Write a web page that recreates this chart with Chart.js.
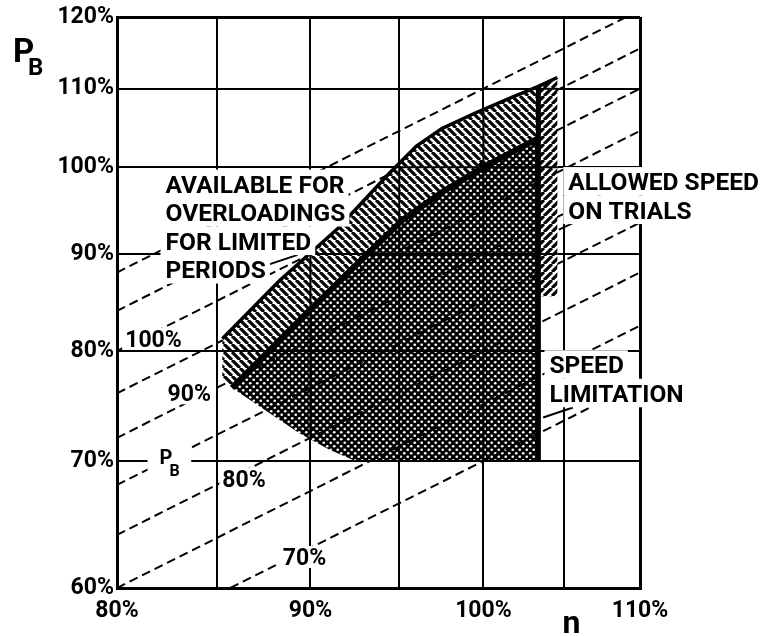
<!DOCTYPE html>
<html>
<head>
<meta charset="utf-8">
<script src="https://cdn.jsdelivr.net/npm/chart.js@4.4.1/dist/chart.umd.min.js"></script>
<style>
  html, body { margin: 0; padding: 0; background: #fff; }
  #c { display: block; }
</style>
</head>
<body>
<canvas id="c" width="768" height="636"></canvas>
<script>
// Axis ticks, percent of rated values (log-log diagram)
const speedTicks = [80, 85, 90, 95, 100, 105, 110];   // n
const speedLabelled = [80, 90, 100, 110];
const powerTicks = [60, 70, 80, 90, 100, 110, 120];   // P_B

// Lines of constant mean effective pressure, % (P_B proportional to n)
const mepLevels = [70, 75, 80, 85, 90, 95, 100, 105, 110];

// Continuous service limit (thick line through the rated point)
const loadLimitN = [85.8, 89.6, 93.5, 95.2, 97.5, 100, 103.4];
const loadLimitP = [76.5, 83.4, 90.6, 93.8, 97.0, 100, 103.6];

// Overload limit (upper edge of the hatched band)
const overloadN = [85.3, 88.3, 91.5, 94.4, 96.0, 97.5, 99.5, 101.7, 103.4, 104.6];
const overloadP = [81.2, 87.1, 92.8, 99.2, 102.6, 104.8, 106.8, 108.8, 110.3, 111.5];

// Lower-left edge of the service range
const lowerEdgeN = [85.8, 87.6, 89.4, 91.0, 92.5];
const lowerEdgeP = [76.5, 74.4, 72.4, 71.0, 70.0];

const speedLimitN = 103.4;       // speed limitation
const trialSpeedN = 104.6;       // allowed speed on trials
const trialStripBottomP = 85.5;
const minServiceP = 70;
const hatchLeftBottomP = 77.3;
const ratedPoint = { n: 100, p: 100 };

// Text blocks: left edge and first line centre in data units
const textBlocks = [
  { lines: ['AVAILABLE FOR', 'OVERLOADINGS', 'FOR LIMITED', 'PERIODS'], n: 82.4, p: 98.0 },
  { lines: ['ALLOWED SPEED', 'ON TRIALS'], n: 105.3, p: 98.3 },
  { lines: ['SPEED', 'LIMITATION'], n: 104.1, p: 78.7 }
];
const mepTags = [
  { mep: 100, n: 80.4, p: 81.2 },
  { mep: 90, n: 82.5, p: 76.0 },
  { mep: 80, n: 85.3, p: 68.5 },
  { mep: 70, n: 88.5, p: 62.3 }
];
const leaders = [
  [[87.8, 88.9], [89.3, 89.9]],
  [[105.6, 74.7], [103.7, 73.8]],
  [[105.9, 93.7], [104.7, 92.7]]
];

const pts = (ns, ps) => ns.map((n, i) => ({ x: n, y: ps[i] }));

function hatch(dir) {
  const s = 8, c = document.createElement('canvas');
  c.width = c.height = s;
  const g = c.getContext('2d');
  g.fillStyle = '#fff'; g.fillRect(0, 0, s, s);
  g.strokeStyle = '#000'; g.lineWidth = 3.2;
  g.beginPath();
  for (const k of [-s, 0, s]) {
    if (dir === 'back') { g.moveTo(k, 0); g.lineTo(k + s, s); }
    else { g.moveTo(k, s); g.lineTo(k + s, 0); }
  }
  g.stroke();
  return g.createPattern(c, 'repeat');
}
function dots() {
  const s = 7, c = document.createElement('canvas');
  c.width = c.height = s;
  const g = c.getContext('2d');
  g.fillStyle = '#000'; g.fillRect(0, 0, s, s);
  g.fillStyle = '#fff';
  for (const [cx, cy] of [[1.75, 1.75], [5.25, 5.25]]) {
    g.beginPath(); g.arc(cx, cy, 1.35, 0, Math.PI * 2); g.fill();
  }
  return g.createPattern(c, 'repeat');
}

const datasets = [];
const mepIdx = [];
mepLevels.forEach(m => {
  const f = m / 100;
  const n0 = Math.max(80, 60 / f), n1 = Math.min(110, 120 / f);
  mepIdx.push(datasets.length);
  datasets.push({
    data: [{ x: n0, y: f * n0 }, { x: n1, y: f * n1 }],
    borderColor: '#000', borderWidth: 2, borderDash: [9, 5], fill: false, order: 10
  });
});

// Hatched overload band
const hatchIdx = datasets.length;
const hatchN = overloadN.filter(n => n <= speedLimitN);
const hatchP = overloadP.slice(0, hatchN.length);
datasets.push({
  data: pts(hatchN, hatchP)
    .concat(pts(loadLimitN.slice().reverse(), loadLimitP.slice().reverse()))
    .concat([{ x: overloadN[0], y: hatchLeftBottomP }]),
  borderColor: 'transparent', borderWidth: 1, backgroundColor: hatch('back'), fill: 'shape', order: 6
});

// Strip for trial speeds
const stripIdx = datasets.length;
datasets.push({
  data: [
    { x: speedLimitN, y: trialStripBottomP },
    { x: speedLimitN, y: overloadP[overloadN.indexOf(speedLimitN)] },
    { x: trialSpeedN, y: overloadP[overloadN.indexOf(trialSpeedN)] },
    { x: trialSpeedN, y: trialStripBottomP }
  ],
  borderColor: 'transparent', borderWidth: 1, backgroundColor: hatch('fwd'), fill: 'shape', order: 6
});

// Overload limit outline
datasets.push({
  data: pts(overloadN, overloadP),
  borderColor: '#000', borderWidth: 3.5, fill: false, order: 5
});

// Service range (dotted)
const dotIdx = datasets.length;
datasets.push({
  data: pts(loadLimitN, loadLimitP)
    .concat([{ x: speedLimitN, y: minServiceP }])
    .concat(pts(lowerEdgeN.slice().reverse(), lowerEdgeP.slice().reverse())),
  borderColor: 'transparent', borderWidth: 1, backgroundColor: dots(), fill: 'shape', order: 4
});

// Load limit line
datasets.push({
  data: pts(loadLimitN, loadLimitP),
  borderColor: '#000', borderWidth: 6, fill: false, order: 2
});
// Speed limitation
datasets.push({
  data: [{ x: speedLimitN, y: minServiceP }, { x: speedLimitN, y: overloadP[overloadN.indexOf(speedLimitN)] }],
  borderColor: '#000', borderWidth: 5, fill: false, order: 2
});
// Rated point
datasets.push({
  data: [{ x: ratedPoint.n, y: ratedPoint.p }],
  showLine: false, pointRadius: 6, pointBackgroundColor: '#000', pointBorderWidth: 0, order: 1
});

const tickFont = { family: 'Roboto', size: 23, weight: 'bold' };
const FONT = 'Roboto';

function subscripted(ctx, x, base, big, small, bigSize, smallSize, dx, dy) {
  ctx.font = `bold ${bigSize}px ${FONT}`;
  ctx.fillText(big, x, base);
  ctx.font = `bold ${smallSize}px ${FONT}`;
  ctx.fillText(small, x + dx, base + dy);
}

const overlay = {
  id: 'overlay',
  afterDatasetsDraw(chart) {
    const { ctx, chartArea: a, scales: { x, y } } = chart;
    const X = v => x.getPixelForValue(v), Y = v => y.getPixelForValue(v);

    // grid lines showing through the shaded areas
    const clipTo = idx => {
      const d = chart.getDatasetMeta(idx).data;
      ctx.beginPath();
      d.forEach((p, i) => i ? ctx.lineTo(p.x, p.y) : ctx.moveTo(p.x, p.y));
      ctx.closePath();
      ctx.clip();
    };
    [hatchIdx, stripIdx, dotIdx].forEach(idx => {
      ctx.save();
      clipTo(idx);
      ctx.strokeStyle = '#000';
      ctx.lineWidth = 2;
      ctx.beginPath();
      speedTicks.forEach(v => { ctx.moveTo(X(v), a.top); ctx.lineTo(X(v), a.bottom); });
      powerTicks.forEach(v => { ctx.moveTo(a.left, Y(v)); ctx.lineTo(a.right, Y(v)); });
      ctx.stroke();
      if (idx === dotIdx) {
        mepIdx.forEach(i => chart.getDatasetMeta(i).dataset.draw(ctx, a));
      }
      ctx.restore();
    });

    ctx.save();
    // leader lines
    ctx.strokeStyle = '#000';
    ctx.lineWidth = 2;
    leaders.forEach(([p0, p1]) => {
      ctx.beginPath(); ctx.moveTo(X(p0[0]), Y(p0[1])); ctx.lineTo(X(p1[0]), Y(p1[1])); ctx.stroke();
    });

    // text blocks on white ground
    const lh = 28.5;
    ctx.textAlign = 'left';
    ctx.textBaseline = 'alphabetic';
    textBlocks.forEach(b => {
      ctx.font = `bold 24.5px ${FONT}`;
      const x0 = X(b.n), y0 = Y(b.p);
      ctx.fillStyle = '#fff';
      b.lines.forEach((t, i) => {
        const w = ctx.measureText(t).width;
        ctx.fillRect(x0 - 5, y0 + i * lh - lh / 2, w + 9, lh);
      });
      ctx.fillStyle = '#000';
      b.lines.forEach((t, i) => ctx.fillText(t, x0, y0 + i * lh + 8.7));
    });

    // mean effective pressure tags
    mepTags.forEach(t => {
      ctx.font = `bold 23px ${FONT}`;
      const s = t.mep + '%';
      const w = ctx.measureText(s).width;
      const x0 = X(t.n), y0 = Y(t.p);
      ctx.fillStyle = '#fff';
      ctx.fillRect(x0 - 3, y0 - 11, w + 5, 22);
      ctx.fillStyle = '#000';
      ctx.fillText(s, x0, y0 + 8);
    });

    // P_B marker on the 70 % line
    const px = X(82.1), py = Y(70);
    ctx.fillStyle = '#fff';
    ctx.fillRect(X(81.5), py - 14, X(83.7) - X(81.5), 30);
    ctx.fillStyle = '#000';
    subscripted(ctx, px, py + 3, 'P', 'B', 20, 16, 10, 12);

    // axis titles
    subscripted(ctx, a.left - 104, a.top + 45, 'P', 'B', 33, 24, 15, 13);
    ctx.font = `bold 32px ${FONT}`;
    ctx.textAlign = 'center';
    ctx.fillText('n', X(105.5), a.bottom + 45);
    ctx.restore();
  }
};

new Chart(document.getElementById('c'), {
  type: 'line',
  data: { datasets },
  options: {
    responsive: false,
    animation: false,
    devicePixelRatio: 1,
    events: [],
    layout: { padding: { top: 17, right: 128, bottom: 0, left: 0 } },
    elements: { point: { radius: 0 }, line: { tension: 0 } },
    plugins: { legend: { display: false }, tooltip: { enabled: false } },
    scales: {
      x: {
        type: 'logarithmic', min: 80, max: 110,
        afterFit: s => { s.height = 48; },
        afterBuildTicks: s => { s.ticks = speedTicks.map(v => ({ value: v })); },
        ticks: {
          autoSkip: false, maxRotation: 0, padding: 9, color: '#000', font: tickFont,
          callback: v => speedLabelled.includes(v) ? v + '%' : ''
        },
        grid: {
          color: '#000', drawTicks: false,
          lineWidth: c => (c.tick && (c.tick.value === 80 || c.tick.value === 110)) ? 3 : 2
        },
        border: { color: '#000', width: 3 }
      },
      y: {
        type: 'logarithmic', min: 60, max: 120,
        afterFit: s => { s.width = 117; },
        afterBuildTicks: s => { s.ticks = powerTicks.map(v => ({ value: v })); },
        ticks: {
          autoSkip: false, padding: 3, color: '#000', font: tickFont,
          callback: v => v + '%'
        },
        grid: {
          color: '#000', drawTicks: false,
          lineWidth: c => (c.tick && (c.tick.value === 60 || c.tick.value === 120)) ? 3 : 2
        },
        border: { color: '#000', width: 3 }
      }
    }
  },
  plugins: [overlay]
});
</script>
</body>
</html>
